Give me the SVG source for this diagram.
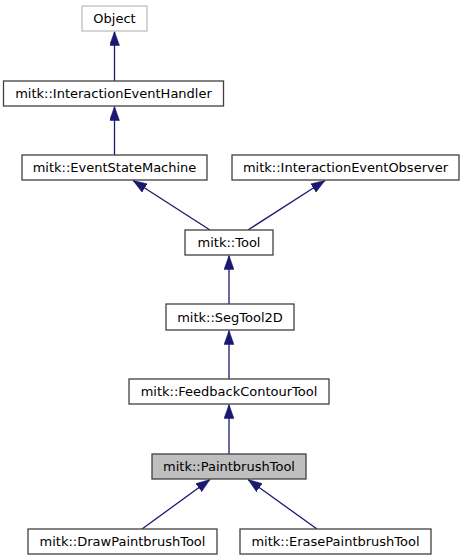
<svg xmlns="http://www.w3.org/2000/svg" width="464" height="560" viewBox="0 0 464 560">
<style>
.box{fill:#ffffff;stroke:#404040;stroke-width:1.3}
.cur{fill:#bfbfbf;stroke:#404040;stroke-width:1.3}
.ext{fill:#ffffff;stroke:#bfbfbf;stroke-width:1.3}
.lbl{font-family:"DejaVu Sans",sans-serif;font-size:13px;fill:#000000;text-anchor:middle}
.edge{stroke:#191970;stroke-width:1.3;fill:none;marker-end:url(#arr)}
</style>
<defs>
<marker id="arr" viewBox="0 0 14 10" refX="14" refY="5" markerWidth="14" markerHeight="10" markerUnits="userSpaceOnUse" orient="auto">
<path d="M0,0 L14,5 L0,10 z" fill="#191970" stroke="#191970" stroke-width="0.5"/>
</marker>
</defs>
<rect width="464" height="560" fill="#ffffff"/>
<g id="connectors">
<path class="edge" d="M114.5,81 L114.5,31.5"/>
<path class="edge" d="M114.5,155 L114.5,106.5"/>
<path class="edge" d="M210,230 L133,180.5"/>
<path class="edge" d="M248,230 L325,180.5"/>
<path class="edge" d="M229,304 L229,255.5"/>
<path class="edge" d="M229,379 L229,330.5"/>
<path class="edge" d="M229,454 L229,404.5"/>
<path class="edge" d="M142,529 L210,479.5"/>
<path class="edge" d="M317,529 L248,479.5"/>
</g>
<g id="node-object"><rect class="ext" x="82" y="6" width="65" height="25"/><text class="lbl" x="114.5" y="23">Object</text></g>
<g id="node-ieh"><rect class="box" x="3.5" y="81" width="220" height="25"/><text class="lbl" x="113.5" y="98">mitk::InteractionEventHandler</text></g>
<g id="node-esm"><rect class="box" x="22" y="155" width="185" height="25"/><text class="lbl" x="114.5" y="172">mitk::EventStateMachine</text></g>
<g id="node-ieo"><rect class="box" x="232" y="155" width="227" height="25"/><text class="lbl" x="345.5" y="172">mitk::InteractionEventObserver</text></g>
<g id="node-tool"><rect class="box" x="185" y="230" width="88" height="25"/><text class="lbl" x="229" y="247">mitk::Tool</text></g>
<g id="node-segtool2d"><rect class="box" x="166" y="304" width="128" height="26"/><text class="lbl" x="230" y="321.5">mitk::SegTool2D</text></g>
<g id="node-fct"><rect class="box" x="129" y="379" width="200" height="25"/><text class="lbl" x="229" y="396">mitk::FeedbackContourTool</text></g>
<g id="node-pbt"><rect class="cur" x="152" y="454" width="154" height="25"/><text class="lbl" x="229" y="471">mitk::PaintbrushTool</text></g>
<g id="node-draw"><rect class="box" x="28" y="529" width="189" height="25"/><text class="lbl" x="122.5" y="546">mitk::DrawPaintbrushTool</text></g>
<g id="node-erase"><rect class="box" x="240" y="529" width="191" height="25"/><text class="lbl" x="335.5" y="546">mitk::ErasePaintbrushTool</text></g>
</svg>
